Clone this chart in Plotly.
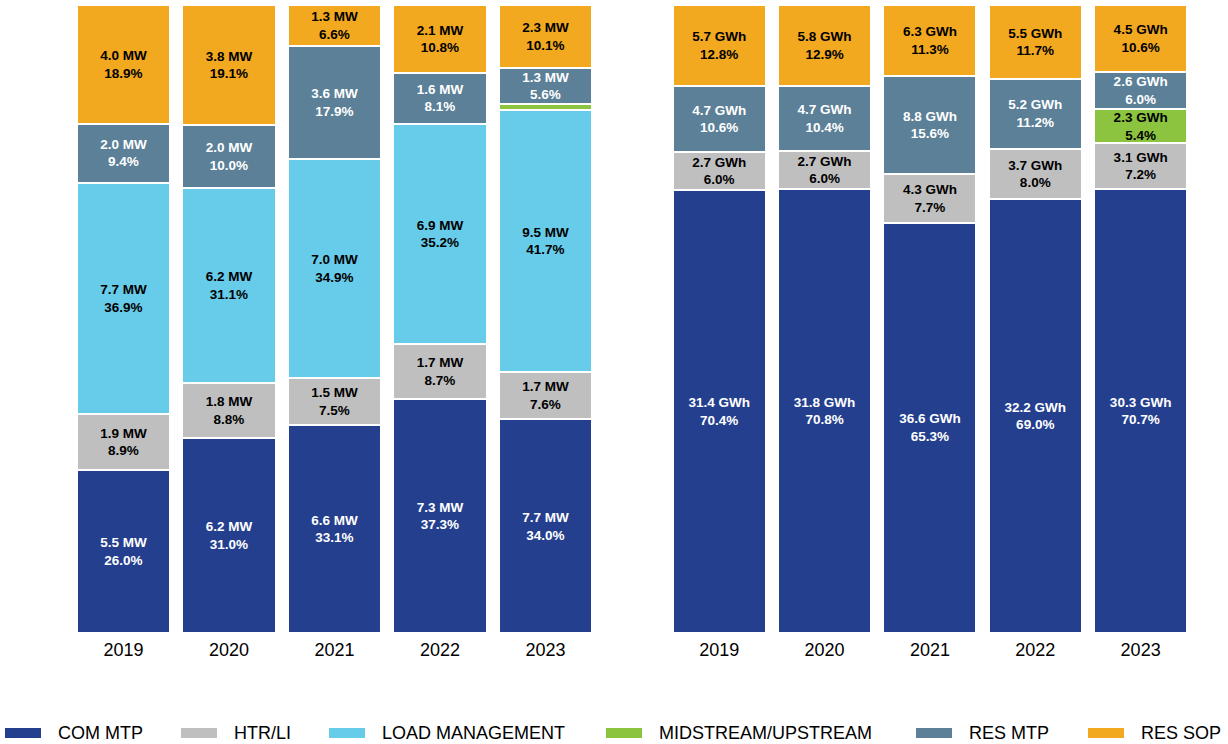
import plotly.graph_objects as go

# ---- data -------------------------------------------------------------
years = ["2019", "2020", "2021", "2022", "2023"]

# Demand (MW) and share of total demand (%)
com_mtp_mw = [5.5, 6.2, 6.6, 7.3, 7.7]
com_mtp_mw_pct = [26.0, 31.0, 33.1, 37.3, 34.0]
htr_li_mw = [1.9, 1.8, 1.5, 1.7, 1.7]
htr_li_mw_pct = [8.9, 8.8, 7.5, 8.7, 7.6]
load_mgmt_mw = [7.7, 6.2, 7.0, 6.9, 9.5]
load_mgmt_mw_pct = [36.9, 31.1, 34.9, 35.2, 41.7]
midstream_mw = [None, None, None, None, None]
midstream_mw_pct = [None, None, None, None, 1.0]
res_mtp_mw = [2.0, 2.0, 3.6, 1.6, 1.3]
res_mtp_mw_pct = [9.4, 10.0, 17.9, 8.1, 5.6]
res_sop_mw = [4.0, 3.8, 1.3, 2.1, 2.3]
res_sop_mw_pct = [18.9, 19.1, 6.6, 10.8, 10.1]

# Energy (GWh) and share of total energy (%)
com_mtp_gwh = [31.4, 31.8, 36.6, 32.2, 30.3]
com_mtp_gwh_pct = [70.4, 70.8, 65.3, 69.0, 70.7]
htr_li_gwh = [2.7, 2.7, 4.3, 3.7, 3.1]
htr_li_gwh_pct = [6.0, 6.0, 7.7, 8.0, 7.2]
midstream_gwh = [None, None, None, None, 2.3]
midstream_gwh_pct = [None, None, None, None, 5.4]
res_mtp_gwh = [4.7, 4.7, 8.8, 5.2, 2.6]
res_mtp_gwh_pct = [10.6, 10.4, 15.6, 11.2, 6.0]
res_sop_gwh = [5.7, 5.8, 6.3, 5.5, 4.5]
res_sop_gwh_pct = [12.8, 12.9, 11.3, 11.7, 10.6]

programs = ["COM MTP", "HTR/LI", "LOAD MANAGEMENT", "MIDSTREAM/UPSTREAM", "RES MTP", "RES SOP"]
colors = ["#243F8E", "#BFBFBF", "#67CCEA", "#8CC43F", "#5B8097", "#F2A81F"]
label_colors = ["white", "black", "black", "black", "white", "black"]

mw_series = [
    (com_mtp_mw, com_mtp_mw_pct),
    (htr_li_mw, htr_li_mw_pct),
    (load_mgmt_mw, load_mgmt_mw_pct),
    (midstream_mw, midstream_mw_pct),
    (res_mtp_mw, res_mtp_mw_pct),
    (res_sop_mw, res_sop_mw_pct),
]
gwh_series = [
    (com_mtp_gwh, com_mtp_gwh_pct),
    (htr_li_gwh, htr_li_gwh_pct),
    None,
    (midstream_gwh, midstream_gwh_pct),
    (res_mtp_gwh, res_mtp_gwh_pct),
    (res_sop_gwh, res_sop_gwh_pct),
]

FONT = "Liberation Sans, Arial, Helvetica, sans-serif"
W, H = 1228, 744


def labels(values, pcts, unit):
    out = []
    for v, p in zip(values, pcts):
        if v is None or p is None:
            out.append("")
        else:
            out.append(f"{v:.1f} {unit}<br>{p:.1f}%")
    return out


fig = go.Figure()

for i, name in enumerate(programs):
    for series, unit, xa, ya in ((mw_series, "MW", "x", "y"), (gwh_series, "GWh", "x2", "y2")):
        s = series[i]
        if s is None:
            continue
        vals, pcts = s
        fig.add_trace(go.Bar(
            x=years, y=pcts, name=name, xaxis=xa, yaxis=ya,
            marker=dict(color=colors[i], line=dict(color="white", width=2)),
            text=labels(vals, pcts, unit),
            textposition="inside", insidetextanchor="middle", textangle=0,
            textfont=dict(family=FONT, size=13.5, color=label_colors[i], weight=700),
            hoverinfo="skip", showlegend=False,
        ))

# ---- legend built from swatches and text -------------------------------
legend_x = [5, 181, 329, 606, 916, 1088]
legend_y = 733
shapes, annotations = [], []
for name, color, x0 in zip(programs, colors, legend_x):
    shapes.append(dict(type="rect", xref="paper", yref="paper",
                       x0=x0 / W, x1=(x0 + 36) / W,
                       y0=1 - (legend_y + 5) / H, y1=1 - (legend_y - 5) / H,
                       fillcolor=color, line=dict(width=0)))
    annotations.append(dict(xref="paper", yref="paper", x=(x0 + 51) / W, y=1 - legend_y / H,
                            text=name, showarrow=False, xanchor="left", yanchor="middle",
                            font=dict(family=FONT, size=18, color="black")))

xaxis_common = dict(type="category", showgrid=False, zeroline=False, showline=False,
                    ticks="", ticklabelstandoff=4,
                    tickfont=dict(family=FONT, size=18, color="black", weight=500))
yaxis_common = dict(range=[0, 100], showgrid=False, zeroline=False, showline=False,
                    showticklabels=False, domain=[(H - 633) / H, (H - 5) / H])

fig.update_layout(
    width=W, height=H,
    margin=dict(l=0, r=0, t=0, b=0),
    paper_bgcolor="white", plot_bgcolor="white",
    barmode="stack", barnorm="percent", bargap=0.118,
    uniformtext=dict(minsize=13.5, mode="show"),
    xaxis=dict(domain=[70.75 / W, 598.25 / W], anchor="y", **xaxis_common),
    xaxis2=dict(domain=[666.5 / W, 1193.3 / W], anchor="y2", **xaxis_common),
    yaxis=dict(anchor="x", **yaxis_common),
    yaxis2=dict(anchor="x2", **yaxis_common),
    shapes=shapes, annotations=annotations,
    showlegend=False,
)

fig.write_html("out.html")
